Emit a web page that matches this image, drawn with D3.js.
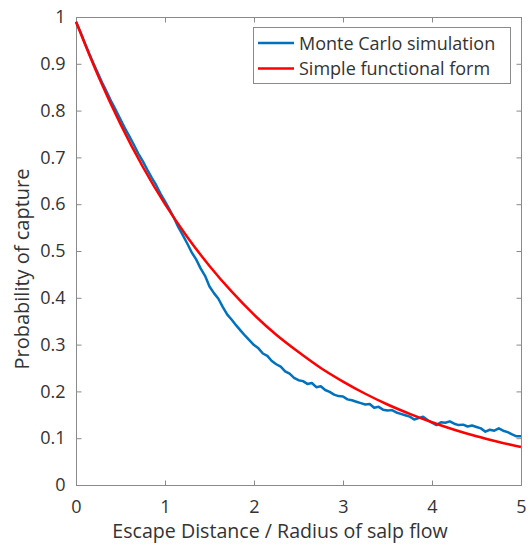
<!DOCTYPE html>
<html>
<head>
<meta charset="utf-8">
<script src="https://cdn.jsdelivr.net/npm/d3@7"></script>
<style>
  html, body { margin: 0; padding: 0; background: #fff; }
  svg { display: block; }
  text { font-family: "Open Sans", "Noto Sans", sans-serif; fill: #333; }
</style>
</head>
<body>
<svg id="chart" width="532" height="546"></svg>
<script>
// Escape distance, in units of the salp flow radius
const xTicks = [0, 1, 2, 3, 4, 5];
const yTicks = [0, 0.1, 0.2, 0.3, 0.4, 0.5, 0.6, 0.7, 0.8, 0.9, 1];

// Monte Carlo estimate of capture probability, sampled every 0.05
const mcX = d3.range(0, 101).map(i => i * 0.05);
const mcY = [
  0.990, 0.968, 0.944, 0.921, 0.899, 0.878, 0.857, 0.838, 0.818, 0.800,
  0.781, 0.762, 0.745, 0.727, 0.708, 0.692, 0.674, 0.657, 0.641, 0.622,
  0.606, 0.589, 0.571, 0.551, 0.534, 0.516, 0.497, 0.482, 0.463, 0.447,
  0.424, 0.410, 0.398, 0.380, 0.364, 0.353, 0.341, 0.330, 0.319, 0.309,
  0.299, 0.292, 0.281, 0.276, 0.265, 0.258, 0.253, 0.243, 0.238, 0.229,
  0.224, 0.222, 0.216, 0.218, 0.209, 0.211, 0.203, 0.199, 0.193, 0.190,
  0.189, 0.183, 0.181, 0.178, 0.175, 0.172, 0.173, 0.165, 0.167, 0.161,
  0.159, 0.160, 0.155, 0.152, 0.149, 0.146, 0.140, 0.143, 0.146, 0.139,
  0.133, 0.128, 0.134, 0.133, 0.136, 0.131, 0.128, 0.129, 0.125, 0.127,
  0.124, 0.121, 0.114, 0.118, 0.116, 0.121, 0.116, 0.113, 0.108, 0.104,
  0.104
];

// Simple functional form, sampled every 0.25
const fitX = d3.range(0, 21).map(i => i * 0.25);
const fitY = [
  0.990, 0.874, 0.771, 0.680, 0.600, 0.530, 0.468, 0.413, 0.364, 0.321,
  0.284, 0.250, 0.221, 0.195, 0.172, 0.152, 0.134, 0.118, 0.104, 0.092,
  0.081
];

const seriesNames = ["Monte Carlo simulation", "Simple functional form"];
const seriesColors = ["#0072bd", "#ff0000"];

const W = 532, H = 546;
const margin = { top: 17, right: 11, bottom: 61, left: 76 };
const svg = d3.select("#chart");

const x = d3.scaleLinear().domain([0, 5]).range([margin.left, W - margin.right]);
const y = d3.scaleLinear().domain([0, 1]).range([H - margin.bottom, margin.top]);

const axisColor = "#8a8a8a";
const tickFont = 18;

// Plot box
svg.append("rect")
  .attr("x", x(0) + 0.5).attr("y", y(1) + 0.5)
  .attr("width", x(5) - x(0)).attr("height", y(0) - y(1))
  .attr("fill", "none").attr("stroke", axisColor).attr("stroke-width", 1);

// Axes with inward ticks
function styleAxis(g) {
  g.select(".domain").remove();
  g.selectAll(".tick line").attr("stroke", axisColor);
  g.selectAll(".tick text").attr("fill", "#333")
    .attr("font-size", tickFont).attr("font-family", "Open Sans, sans-serif");
}

svg.append("g")
  .attr("transform", `translate(0,${y(0) + 0.5})`)
  .call(d3.axisBottom(x).tickValues(xTicks).tickFormat(d3.format("d"))
    .tickSizeInner(-5).tickSizeOuter(0).tickPadding(15))
  .call(styleAxis);

svg.append("g")
  .attr("transform", `translate(0,${y(1) + 0.5})`)
  .call(d3.axisTop(x).tickValues(xTicks).tickFormat("").tickSizeInner(-5).tickSizeOuter(0))
  .call(styleAxis);

svg.append("g")
  .attr("transform", `translate(${x(0) + 0.5},0)`)
  .call(d3.axisLeft(y).tickValues(yTicks).tickFormat(d => d === 0 || d === 1 ? d3.format("d")(d) : d3.format(".1f")(d))
    .tickSizeInner(-5).tickSizeOuter(0).tickPadding(11))
  .call(styleAxis);

svg.append("g")
  .attr("transform", `translate(${x(5) + 0.5},0)`)
  .call(d3.axisRight(y).tickValues(yTicks).tickFormat("").tickSizeInner(-5).tickSizeOuter(0))
  .call(styleAxis);

// Curves
const line = d3.line().x(d => x(d[0])).y(d => y(d[1]));
const mcData = mcX.map((v, i) => [v, mcY[i]]);
const fitData = fitX.map((v, i) => [v, fitY[i]]);

svg.append("path")
  .datum(mcData)
  .attr("d", line)
  .attr("fill", "none").attr("stroke", seriesColors[0])
  .attr("stroke-width", 2.5).attr("stroke-linejoin", "round");

svg.append("path")
  .datum(fitData)
  .attr("d", line.curve(d3.curveMonotoneX))
  .attr("fill", "none").attr("stroke", seriesColors[1])
  .attr("stroke-width", 2.5).attr("stroke-linejoin", "round");

// Axis labels
svg.append("text")
  .attr("x", 280).attr("y", 538)
  .attr("text-anchor", "middle").attr("font-size", 19.6)
  .text("Escape Distance / Radius of salp flow");

svg.append("text")
  .attr("transform", "translate(29,269) rotate(-90)")
  .attr("text-anchor", "middle").attr("font-size", 20)
  .text("Probability of capture");

// Legend
const lg = svg.append("g");
lg.append("rect")
  .attr("x", 253.5).attr("y", 27.5).attr("width", 257).attr("height", 56)
  .attr("fill", "#fff").attr("stroke", axisColor);
seriesNames.forEach((name, i) => {
  const cy = 43 + i * 25.5;
  lg.append("line")
    .attr("x1", 258).attr("x2", 294).attr("y1", cy).attr("y2", cy)
    .attr("stroke", seriesColors[i]).attr("stroke-width", 2.5);
  lg.append("text")
    .attr("x", 299).attr("y", cy + 6.5)
    .attr("font-size", 18).attr("fill", "#1a1a1a")
    .text(name);
});
</script>
</body>
</html>
